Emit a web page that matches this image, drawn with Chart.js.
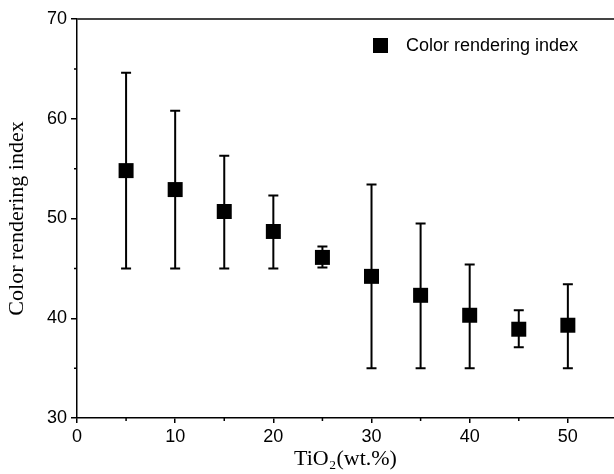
<!DOCTYPE html>
<html>
<head>
    <title>Color rendering index</title>
    <script src="https://cdn.jsdelivr.net/npm/chart.js"></script>
    <style>
        body { margin: 0; background: #fff; }
    </style>
</head>
<body>
    <canvas id="criChart" width="614" height="474"></canvas>

    <script>
        // TiO2 content (wt.%) and measured colour rendering index
        const tio2 = [5, 10, 15, 20, 25, 30, 35, 40, 45, 50];
        const cri = [54.8, 52.9, 50.7, 48.7, 46.1, 44.2, 42.3, 40.3, 38.9, 39.3];
        // error bar ends (not symmetric)
        const criHigh = [64.6, 60.8, 56.3, 52.3, 47.2, 53.4, 49.5, 45.4, 40.8, 43.4];
        const criLow = [45, 45, 45, 45, 45.1, 35, 35, 35, 37.1, 35];
        const xTicks = [0, 10, 20, 30, 40, 50];
        const yTicks = [30, 40, 50, 60, 70];

        const points = tio2.map((x, i) => ({ x: x, y: cri[i] }));
        const sansFont = '"Liberation Sans", Arial, sans-serif';
        const serifFont = '"Liberation Serif", "Times New Roman", serif';

        // error bars, drawn under the markers
        const errorBars = {
            id: 'errorBars',
            beforeDatasetsDraw(chart) {
                const ctx = chart.ctx;
                const xs = chart.scales.x, ys = chart.scales.y;
                ctx.save();
                ctx.strokeStyle = '#000';
                ctx.lineWidth = 2;
                tio2.forEach((x, i) => {
                    const px = xs.getPixelForValue(x);
                    const top = ys.getPixelForValue(criHigh[i]);
                    const bot = ys.getPixelForValue(criLow[i]);
                    ctx.beginPath();
                    ctx.moveTo(px, top);
                    ctx.lineTo(px, bot);
                    ctx.moveTo(px - 5, top);
                    ctx.lineTo(px + 5, top);
                    ctx.moveTo(px - 5, bot);
                    ctx.lineTo(px + 5, bot);
                    ctx.stroke();
                });
                ctx.restore();
            }
        };

        // minor ticks, top frame line and the legend box
        const frame = {
            id: 'frame',
            afterDraw(chart) {
                const ctx = chart.ctx;
                const xs = chart.scales.x, ys = chart.scales.y;
                const area = chart.chartArea;
                ctx.save();
                ctx.strokeStyle = '#000';
                ctx.lineWidth = 1.5;
                ctx.beginPath();
                for (let v = 5; v < 55; v += 10) {
                    const px = xs.getPixelForValue(v);
                    ctx.moveTo(px, area.bottom);
                    ctx.lineTo(px, area.bottom + 3);
                }
                for (let v = 35; v < 70; v += 10) {
                    const py = ys.getPixelForValue(v);
                    ctx.moveTo(area.left, py);
                    ctx.lineTo(area.left - 3, py);
                }
                ctx.stroke();
                ctx.strokeStyle = '#444';
                ctx.lineWidth = 2;
                ctx.beginPath();
                ctx.moveTo(area.left, area.top);
                ctx.lineTo(area.right, area.top);
                ctx.stroke();

                // legend
                const ds = chart.data.datasets[0];
                ctx.fillStyle = '#000';
                ctx.fillRect(373, 38, 15, 15);
                ctx.font = '18px ' + sansFont;
                ctx.textBaseline = 'middle';
                ctx.textAlign = 'left';
                ctx.fillText(ds.label, 406, 46);
                ctx.restore();
            }
        };

        const ctx = document.getElementById('criChart').getContext('2d');
        const myChart = new Chart(ctx, {
            type: 'scatter',
            data: {
                datasets: [{
                    label: 'Color rendering index',
                    data: points,
                    pointStyle: 'rect',
                    radius: 10.6,
                    hoverRadius: 10.6,
                    backgroundColor: '#000',
                    borderColor: '#000',
                    borderWidth: 0,
                    showLine: false
                }]
            },
            options: {
                responsive: false,
                animation: false,
                layout: { autoPadding: false, padding: { top: 19, right: 0, left: 0, bottom: 0 } },
                plugins: {
                    tooltip: { enabled: false },
                    legend: { display: false }
                },
                scales: {
                    x: {
                        type: 'linear',
                        min: 0,
                        max: 54.7,
                        afterFit(scale) { scale.height = 56; scale.paddingRight = 0; },
                        afterBuildTicks(scale) { scale.ticks = xTicks.map(v => ({ value: v })); },
                        ticks: {
                            includeBounds: false,
                            color: '#000',
                            padding: 3,
                            maxRotation: 0,
                            font: { family: sansFont, size: 18 }
                        },
                        grid: { drawOnChartArea: false, drawTicks: true, tickLength: 5, color: '#000', lineWidth: 1.5 },
                        border: { color: '#000', width: 1.5 },
                        title: {
                            display: true,
                            text: 'TiO\u2082(wt.%)',
                            color: '#000',
                            padding: { top: 0, bottom: 2 },
                            font: { family: serifFont, size: 22 }
                        }
                    },
                    y: {
                        min: 30,
                        max: 70,
                        afterFit(scale) { scale.width = 77; },
                        afterBuildTicks(scale) { scale.ticks = yTicks.map(v => ({ value: v })); },
                        ticks: {
                            color: '#000',
                            padding: 4,
                            font: { family: sansFont, size: 18 }
                        },
                        grid: { drawOnChartArea: false, drawTicks: true, tickLength: 6, color: '#000', lineWidth: 1.5 },
                        border: { color: '#000', width: 1.5 },
                        title: {
                            display: true,
                            text: 'Color rendering index',
                            color: '#000',
                            padding: { top: 4, bottom: 0 },
                            font: { family: serifFont, size: 22 }
                        }
                    }
                }
            },
            plugins: [errorBars, frame]
        });
    </script>
</body>
</html>
